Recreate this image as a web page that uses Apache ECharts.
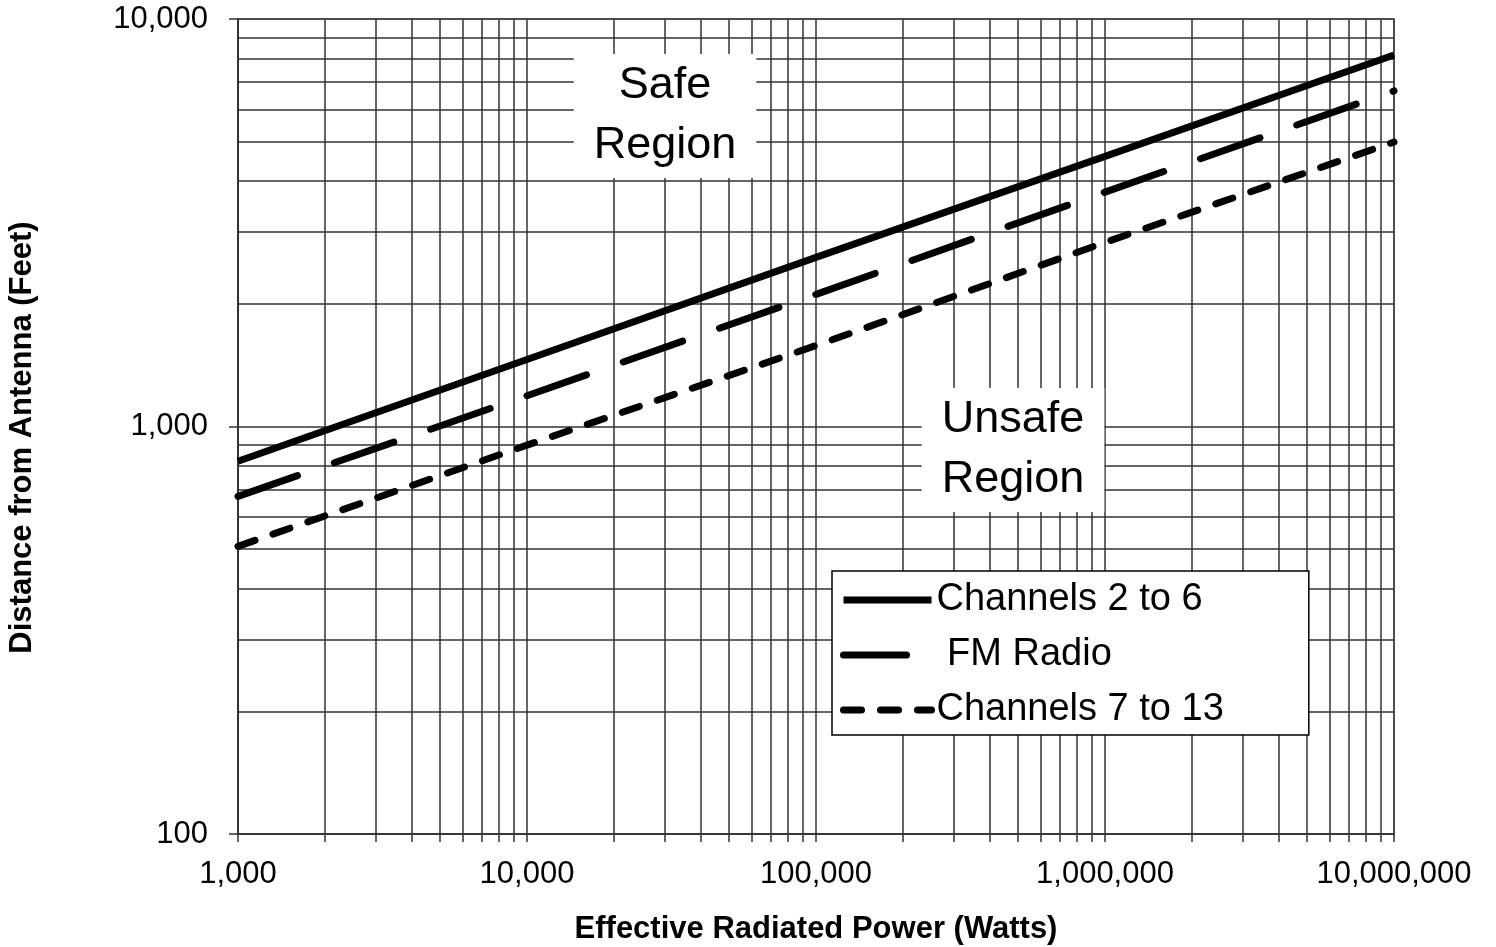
<!DOCTYPE html>
<html><head><meta charset="utf-8">
<script src="https://cdn.jsdelivr.net/npm/echarts@6/dist/echarts.min.js"></script>
<style>html,body{margin:0;padding:0;background:#fff}#c{width:1496px;height:947px}</style>
</head><body><div id="c"></div>
<script>
const powerWatts = [1000, 10000, 100000, 1000000, 10000000];
const channels2to6 = [822, 1460, 2600, 4600, 8160];
const fmRadio = [674, 1190, 2110, 3760, 6660];
const channels7to13 = [508, 900, 1580, 2830, 4990];
const seriesNames = ['Channels 2 to 6', ' FM Radio', 'Channels 7 to 13'];
const xTitle = 'Effective Radiated Power (Watts)';
const yTitle = 'Distance from Antenna (Feet)';
const xRange = [1000, 10000000];
const yRange = [100, 10000];
const regionLabels = ['Safe\nRegion', 'Unsafe\nRegion'];

const FONT = '"Liberation Sans", Arial, sans-serif';
const fmt = v => String(Math.round(v)).replace(/\B(?=(\d{3})+(?!\d))/g, ',');
const pair = ys => powerWatts.map((x, i) => [x, ys[i]]);
const GRID = '#333333';

const chart = echarts.init(document.getElementById('c'), null, {renderer: 'canvas'});
const mkSeries = (name, ys, type, cap) => ({
  name, type: 'line', data: pair(ys), symbol: 'none', showSymbol: false,
  lineStyle: {color: '#000', width: 7, type, cap}, itemStyle: {color: '#000'},
  z: 5, clip: true
});
chart.setOption({
  animation: false,
  backgroundColor: '#fff',
  grid: {left: 238, right: 102, top: 19, bottom: 113, containLabel: false, outerBoundsMode: 'none',
         show: true, borderColor: '#9a9a9a', borderWidth: 2, backgroundColor: 'transparent'},
  xAxis: {
    type: 'log', logBase: 10, min: xRange[0], max: xRange[1],
    name: xTitle, nameLocation: 'middle', nameGap: 80,
    nameTextStyle: {fontFamily: FONT, fontSize: 31, fontWeight: 'bold', color: '#000'},
    axisLine: {show: true, lineStyle: {color: GRID, width: 1.5}},
    axisTick: {show: true, inside: false, length: 8, lineStyle: {color: GRID, width: 1.5}},
    minorTick: {show: true, splitNumber: 9, length: 8, lineStyle: {color: GRID, width: 1.5}},
    splitLine: {show: true, lineStyle: {color: GRID, width: 1.5}},
    minorSplitLine: {show: true, lineStyle: {color: GRID, width: 1.5}},
    axisLabel: {formatter: fmt, fontFamily: FONT, fontSize: 31, color: '#000', margin: 25}
  },
  yAxis: {
    type: 'log', logBase: 10, min: yRange[0], max: yRange[1],
    name: yTitle, nameLocation: 'middle', nameGap: 200,
    nameTextStyle: {fontFamily: FONT, fontSize: 31, fontWeight: 'bold', color: '#000', padding: [0, 22, 0, 0]},
    axisLine: {show: true, lineStyle: {color: GRID, width: 1.5}},
    axisTick: {show: true, inside: false, length: 9, lineStyle: {color: GRID, width: 1.5}},
    splitLine: {show: true, lineStyle: {color: GRID, width: 1.5}},
    minorSplitLine: {show: true, lineStyle: {color: GRID, width: 1.5}},
    minorTick: {show: false, splitNumber: 9},
    axisLabel: {formatter: fmt, fontFamily: FONT, fontSize: 31, color: '#000', margin: 30}
  },
  legend: {
    orient: 'vertical', left: 832, top: 571,
    padding: [8, 85, 4, 8],
    itemWidth: 88, itemHeight: 10, itemGap: 13,
    backgroundColor: '#fff', borderColor: '#000', borderWidth: 1.5,
    lineStyle: {width: 7},
    itemStyle: {opacity: 0, color: 'rgba(0,0,0,0)', borderWidth: 0},
    textStyle: {fontFamily: FONT, fontSize: 38, color: '#000', lineHeight: 42},
    data: seriesNames
  },
  graphic: [
    {type: 'text', x: 665, y: 116, z: 50, style: {text: regionLabels[0], font: '45px ' + FONT, fill: '#000', align: 'center', verticalAlign: 'middle', lineHeight: 60, backgroundColor: '#fff', padding: [1, 20, 3, 20]}},
    {type: 'text', x: 1013, y: 450, z: 50, style: {text: regionLabels[1], font: '45px ' + FONT, fill: '#000', align: 'center', verticalAlign: 'middle', lineHeight: 60, backgroundColor: '#fff', padding: [1, 20, 3, 20]}}
  ],
  series: [
    mkSeries(seriesNames[0], channels2to6, 'solid', 'butt'),
    mkSeries(seriesNames[1], fmRadio, [63, 39], 'round'),
    mkSeries(seriesNames[2], channels7to13, [18, 19], 'round')
  ]
});
</script></body></html>
